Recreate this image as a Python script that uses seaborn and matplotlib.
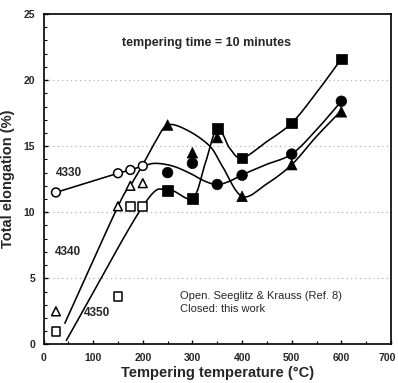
import numpy as np
import pandas as pd
import matplotlib
matplotlib.use("Agg")
import matplotlib.pyplot as plt
import seaborn as sns
from matplotlib.ticker import MultipleLocator, FixedLocator

sns.set_theme(style="white")
plt.rcParams["font.family"] = ["Liberation Sans", "DejaVu Sans"]
plt.rcParams["font.weight"] = "bold"

# Open symbols: Seeglitz & Krauss (Ref. 8)
temp_open = [25, 150, 175, 200]
open_4330 = [11.5, 12.95, 13.2, 13.5]
open_4340 = [2.5, 10.45, 12.0, 12.2]
open_4350 = [0.95, 3.65, 10.45, 10.45]

# Closed symbols: this work
temp_closed = [250, 300, 350, 400, 500, 600]
closed_4330 = [13.0, 13.7, 12.1, 12.8, 14.4, 18.4]
closed_4340 = [16.6, 14.5, 15.65, 11.2, 13.6, 17.6]
closed_4350 = [11.65, 11.05, 16.35, 14.1, 16.75, 21.6]

# Hand-fitted trend curves (knots along each curve)
fit_4330_t = [200, 225, 260, 295, 325, 350, 375, 400, 448, 500, 549, 600]
fit_4330_v = [13.5, 13.7, 13.5, 12.95, 12.35, 12.1, 12.35, 12.83, 13.6, 14.4, 16.2, 18.4]
fit_4340_t = [43, 150, 175, 200, 225, 250, 290, 335, 360, 400, 448, 500, 549, 600]
fit_4340_v = [1.6, 10.45, 12.0, 13.6, 15.3, 16.6, 16.2, 15.0, 13.5, 11.2, 12.1, 13.6, 15.7, 17.7]
fit_4350_t = [46, 200, 250, 300, 325, 350, 375, 400, 448, 500, 549, 600]
fit_4350_v = [0.3, 10.45, 11.7, 11.05, 13.6, 16.35, 14.85, 14.1, 15.3, 16.75, 19.0, 21.6]

x_ticks = [0, 100, 200, 300, 400, 500, 600, 700]
x_tick_labels = ["0", "100", "200", "300", "400", "500", "600", "700"]


def smooth(t, v, n=24):
    """Catmull-Rom spline through the knots, for drawing a smooth curve."""
    p = np.column_stack([t, v]).astype(float)
    p = np.vstack([2 * p[0] - p[1], p, 2 * p[-1] - p[-2]])
    out = []
    s = np.linspace(0, 1, n, endpoint=False)[:, None]
    for i in range(1, len(p) - 2):
        p0, p1, p2, p3 = p[i - 1], p[i], p[i + 1], p[i + 2]
        seg = 0.5 * ((2 * p1) + (-p0 + p2) * s
                     + (2 * p0 - 5 * p1 + 4 * p2 - p3) * s ** 2
                     + (-p0 + 3 * p1 - 3 * p2 + p3) * s ** 3)
        out.append(seg)
    out.append(p[-2][None, :])
    out = np.vstack(out)
    return out[:, 0], out[:, 1]


fig = plt.figure(figsize=(3.98, 3.83), dpi=100)
ax = fig.add_axes([0.1093, 0.1008, 0.8731, 0.8626])

# dotted horizontal grid
for yv in [5, 10, 15, 20]:
    ax.axhline(yv, color="#a8a8a8", lw=0.8, ls=(0, (1, 3)), zorder=0)

lw = 1.15
# trend curves
for t, v in [(fit_4330_t, fit_4330_v), (fit_4340_t, fit_4340_v), (fit_4350_t, fit_4350_v)]:
    xs, ys = smooth(t, v)
    sns.lineplot(x=xs, y=ys, sort=False, color="black", lw=lw, ax=ax, zorder=2)

# 4330 literature points joined by straight segments
sns.lineplot(x=temp_open, y=open_4330, sort=False, color="black", lw=lw, ax=ax, zorder=2)

open_df = pd.DataFrame({
    "T": temp_open * 3,
    "v": open_4330 + open_4340 + open_4350,
    "steel": ["4330"] * 4 + ["4340"] * 4 + ["4350"] * 4,
})
closed_df = pd.DataFrame({
    "T": temp_closed * 3,
    "v": closed_4330 + closed_4340 + closed_4350,
    "steel": ["4330"] * 6 + ["4340"] * 6 + ["4350"] * 6,
})
marks = {"4330": "o", "4340": "^", "4350": "s"}

sns.scatterplot(data=open_df, x="T", y="v", style="steel", markers=marks,
                s=40, facecolor="white", edgecolor="black", linewidth=1.1,
                legend=False, ax=ax, zorder=3)
sns.scatterplot(data=closed_df, x="T", y="v", style="steel", markers=marks,
                s=58, color="black", edgecolor="black", linewidth=0.5,
                legend=False, ax=ax, zorder=3)

ax.set_xlim(0, 700)
ax.set_ylim(0, 25)
ax.xaxis.set_major_locator(FixedLocator(x_ticks))
# the last label sits at the figure edge; it is drawn separately below
ax.set_xticklabels(x_tick_labels[:-1] + [""])
ax.xaxis.set_minor_locator(MultipleLocator(50))
ax.yaxis.set_major_locator(MultipleLocator(5))
ax.yaxis.set_minor_locator(MultipleLocator(1))
ax.tick_params(axis="both", which="both", direction="in", labelsize=7.5,
               top=False, right=False, left=True, bottom=True, color="black")
ax.tick_params(which="major", length=3, width=1.0, pad=6)
ax.tick_params(which="minor", length=2, width=0.8)
for lab in ax.get_xticklabels() + ax.get_yticklabels():
    lab.set_fontweight("bold")
ax.annotate(x_tick_labels[-1], xy=(x_ticks[-1], 0), xycoords=("data", "axes fraction"),
            xytext=(-3, -6), textcoords="offset points", ha="center", va="top",
            fontsize=7.5, fontweight="bold", annotation_clip=False)
for sp in ax.spines.values():
    sp.set_color("black")
    sp.set_linewidth(1.2)

ax.set_xlabel("Tempering temperature (°C)", fontsize=10.5, fontweight="bold", labelpad=2)
ax.set_ylabel("Total elongation (%)", fontsize=10.5, fontweight="bold", labelpad=6)

ax.text(328, 22.8, "tempering time = 10 minutes", fontsize=9, fontweight="bold",
        ha="center", va="center")
ax.text(52, 13.0, "4330", fontsize=8.5, ha="center", va="center")
ax.text(50, 7.0, "4340", fontsize=8.5, ha="center", va="center")
ax.text(107, 2.4, "4350", fontsize=8.5, ha="center", va="center")
ax.text(274, 3.66, "Open. Seeglitz & Krauss (Ref. 8)", fontsize=8,
        fontweight="normal", ha="left", va="center")
ax.text(274, 2.68, "Closed: this work", fontsize=8, fontweight="normal",
        ha="left", va="center")

fig.savefig("out.png", dpi=100)
